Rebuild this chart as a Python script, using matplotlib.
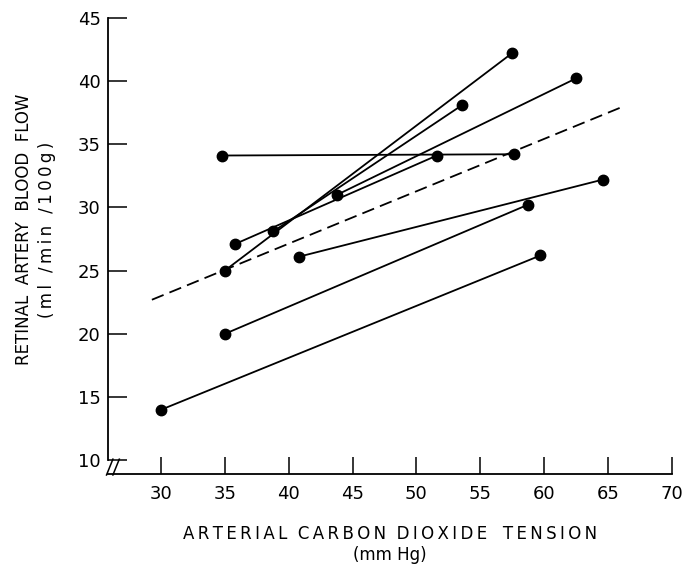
import matplotlib
matplotlib.use("Agg")
import matplotlib.pyplot as plt

# paired measurements per subject: low PaCO2 -> high PaCO2
x_low = [30, 35, 40.8, 34.8, 35, 35.8, 38.8, 43.8]
y_low = [14, 20, 26.1, 34.1, 25, 27.1, 28.1, 31.0]
x_high = [59.7, 58.7, 64.6, 57.6, 57.5, 51.6, 53.6, 62.5]
y_high = [26.2, 30.2, 32.2, 34.2, 42.2, 34.1, 38.1, 40.2]

# regression (dashed) line endpoints
fit_x = [29.3, 66.0]
fit_y = [22.7, 37.9]

x_ticks = [30, 35, 40, 45, 50, 55, 60, 65, 70]
y_ticks = [10, 15, 20, 25, 30, 35, 40, 45]


def spaced(s, gap="\u2009"):
    # wide letter spacing like the original lettering
    return gap.join(s)


plt.rcParams["font.family"] = ["DejaVu Sans"]

fig = plt.figure(figsize=(7, 5.68), dpi=100)
ax = fig.add_axes([0.154, 0.166, 0.806, 0.803])

for i in range(len(x_low)):
    ax.plot([x_low[i], x_high[i]], [y_low[i], y_high[i]], color="black",
            lw=1.3, marker="o", markersize=7.5, solid_capstyle="round")

ax.plot(fit_x, fit_y, color="black", lw=1.3, linestyle=(0, (7, 3.5)))

ax.set_xlim(25.85, 70)
ax.set_ylim(8.95, 45)
ax.set_xticks(x_ticks)
ax.set_yticks(y_ticks)
ax.tick_params(axis="both", direction="in", width=1.1, labelsize=13)
ax.tick_params(axis="y", length=14, pad=5)
ax.tick_params(axis="x", length=12, pad=8)

ax.spines["top"].set_visible(False)
ax.spines["right"].set_visible(False)
ax.spines["left"].set_linewidth(1.3)
ax.spines["bottom"].set_linewidth(1.3)
ax.spines["left"].set_bounds(10, 45)

# axis break marks at the corner
for dx in [0, 0.5]:
    ax.plot([25.75 + dx, 26.25 + dx], [8.85, 10.1], color="black", lw=1.1,
            clip_on=False)

xlab = spaced("ARTERIAL") + "  " + spaced("CARBON") + "  " + spaced("DIOXIDE") \
    + "   " + spaced("TENSION") + "\n(mm Hg)"
ylab = "RETINAL  ARTERY  BLOOD  FLOW\n" + spaced("(ml /min /100g)")

ax.set_xlabel(xlab, fontsize=12, labelpad=16, linespacing=1.2)
ax.set_ylabel(ylab, fontsize=12, linespacing=1.4)
ax.yaxis.set_label_coords(-0.091, 0.535)

fig.savefig("out.png", dpi=100)
